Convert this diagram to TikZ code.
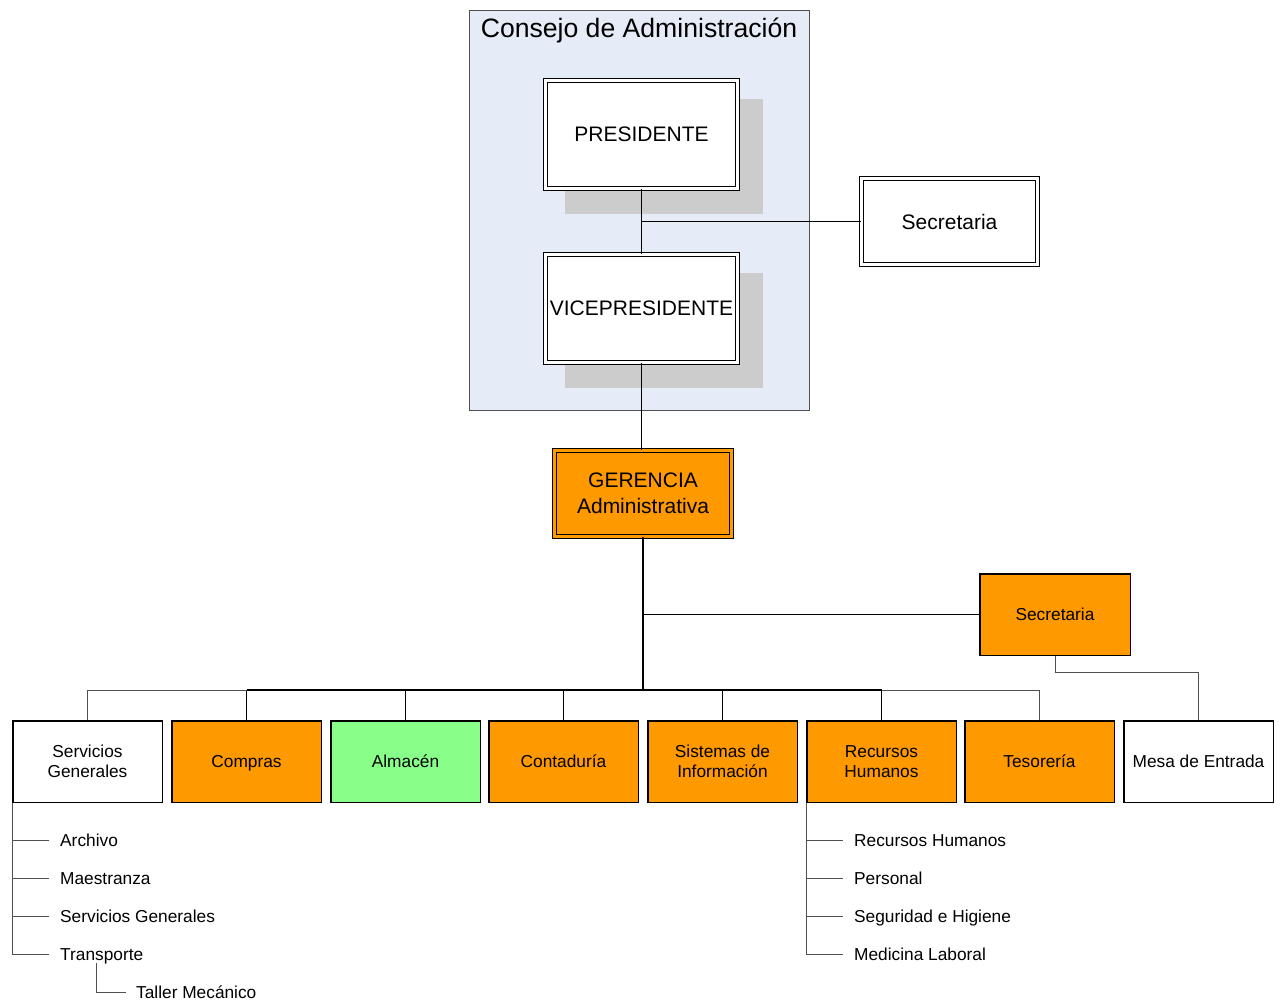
\documentclass[tikz,border=0pt]{standalone}
\usepackage{fontspec}
\setmainfont{Liberation Sans}
\usetikzlibrary{calc}
\definecolor{orangebox}{HTML}{FF9900}
\definecolor{greenbox}{HTML}{88FF88}
\definecolor{boardfill}{HTML}{E6ECF7}
\definecolor{shadowgray}{HTML}{CCCCCC}
\definecolor{linegray}{HTML}{505050}
\begin{document}
\begin{tikzpicture}[x=1pt,y=-1pt,
  bigtext/.style={font=\fontsize{21}{26}\selectfont},
  smalltext/.style={font=\fontsize{17.3}{20}\selectfont},
  oneline/.style={text height=16.5pt, text depth=3.6pt},
  dbox/.style={draw=black, fill=white, line width=1.3pt, double=white, double distance=2.2pt,
    inner sep=0pt, align=center, bigtext},
  unit/.style={draw=black, line width=1.5pt, inner sep=0pt, align=center, smalltext,
    minimum width=149.5pt, minimum height=81.5pt},
  item/.style={anchor=west, inner sep=0pt, smalltext, oneline},
  conn/.style={draw=linegray, line width=0.8pt},
  connb/.style={draw=black, line width=0.8pt},
  trunk/.style={draw=black, line width=2pt}
]
\useasboundingbox (0,0) rectangle (1285,1008);

% board frame
\node[draw=linegray, line width=0.8pt, fill=boardfill, minimum width=340pt, minimum height=400pt, inner sep=0pt]
  (board) at (639.5,210) {};
\node[font=\fontsize{26.6}{30}\selectfont, inner sep=0pt] (boardtitle) at (639,30) {Consejo de Administración};

% shadows behind the board members
\fill[shadowgray] (565,99) rectangle (763,214);
\fill[shadowgray] (565,273) rectangle (763,388);

\node[dbox, minimum width=192pt, minimum height=108pt] (pres) at (641.5,134.5) {PRESIDENTE};
\node[dbox, minimum width=192pt, minimum height=108pt] (vp) at (641.5,308.5) {VICEPRESIDENTE};
\node[dbox, minimum width=176pt, minimum height=86pt] (sec1) at (949.5,221.5) {Secretaria};
\node[dbox, double=orangebox, fill=orangebox, minimum width=177pt, minimum height=86pt] (ger) at (643,493.5)
  {GERENCIA\\Administrativa};
\node[unit, oneline, fill=orangebox, minimum width=150.5pt] (sec2) at (1055,614.5) {Secretaria};

% departments
\node[unit, fill=white]              (sg)   at (87.5,761.5)   {Servicios\\Generales};
\node[unit, oneline, fill=orangebox] (comp) at (246.5,761.5)  {Compras};
\node[unit, oneline, fill=greenbox]  (alm)  at (405.5,761.5)  {Almacén};
\node[unit, oneline, fill=orangebox] (cont) at (563.5,761.5)  {Contaduría};
\node[unit, fill=orangebox]          (sis)  at (722.5,761.5)  {Sistemas de\\Información};
\node[unit, fill=orangebox]          (rrhh) at (881.5,761.5)  {Recursos\\Humanos};
\node[unit, oneline, fill=orangebox] (tes)  at (1039.5,761.5) {Tesorería};
\node[unit, oneline, fill=white]     (mesa) at (1198.5,761.5) {Mesa de Entrada};

% sub-units
\node[item] (arch) at (60,840) {Archivo};
\node[item] (maes) at (60,878) {Maestranza};
\node[item] (sgen) at (60,916) {Servicios Generales};
\node[item] (trans) at (60,954) {Transporte};
\node[item] (taller) at (136,992) {Taller Mecánico};
\node[item] (rh) at (854,840) {Recursos Humanos};
\node[item] (pers) at (854,878) {Personal};
\node[item] (seg) at (854,916) {Seguridad e Higiene};
\node[item] (med) at (854,954) {Medicina Laboral};

% board connectors
\draw[connb] (pres.south) -- (vp.north);
\draw[connb] (sec1.west) -- (sec1.west -| pres.south);
\draw[connb] (vp.south) -- (vp.south |- ger.north);

% management trunk and bus
\coordinate (bus) at (643,690);
\draw[trunk] (ger.south) -- (bus);
\draw[connb] (sec2.west) -- (sec2.west -| ger.south);
\draw[trunk] (comp.north |- bus) -- (rrhh.north |- bus);
\foreach \n in {comp,alm,cont,sis,rrhh}
  \draw[connb] (\n.north) -- (\n.north |- bus);
\draw[conn] (sg.north) |- (comp.north |- bus);
\draw[conn] (tes.north) |- (rrhh.north |- bus);
\draw[conn] (sec2.south) -- ++(0,16) -| (mesa.north);

% sub-unit lists
\draw[conn] ([xshift=0.75pt]sg.south west) |- ([xshift=-11pt]trans.west);
\foreach \n in {arch,maes,sgen}
  \draw[conn] ([xshift=0.75pt]sg.south west |- \n.west) -- ([xshift=-11pt]\n.west);
\draw[conn] ([xshift=36pt,yshift=1pt]trans.south west) |- ([xshift=-10pt]taller.west);
\draw[conn] ([xshift=0.75pt]rrhh.south west) |- ([xshift=-11pt]med.west);
\foreach \n in {rh,pers,seg}
  \draw[conn] ([xshift=0.75pt]rrhh.south west |- \n.west) -- ([xshift=-11pt]\n.west);
\end{tikzpicture}
\end{document}
